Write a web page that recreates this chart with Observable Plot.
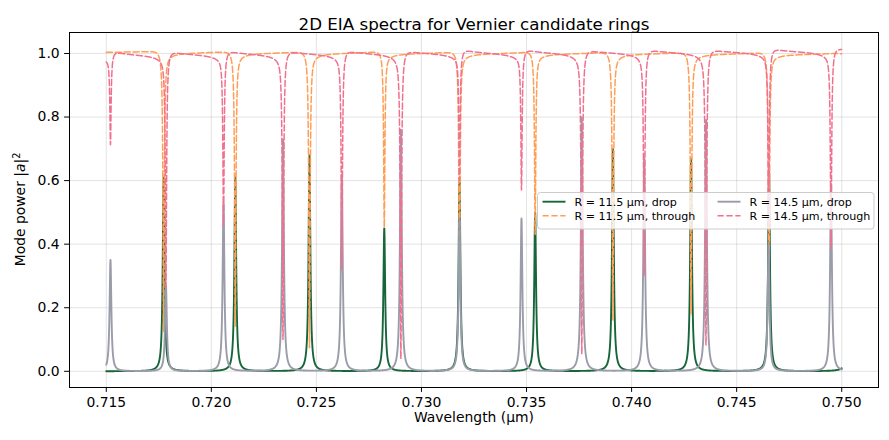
<!DOCTYPE html>
<html>
<head>
<meta charset="utf-8">
<script src="https://cdn.jsdelivr.net/npm/d3@7"></script>
<script src="https://cdn.jsdelivr.net/npm/@observablehq/plot@0.6"></script>
<style>
  html, body { margin: 0; padding: 0; background: #ffffff; }
  #chart svg { display: block; }
</style>
</head>
<body>
<div id="chart"></div>
<script>
// Wavelength window of the sweep (µm)
const sweepStart = 0.715;
const sweepEnd = 0.750;
const sweepStep = 0.000004;

// R = 11.5 µm ring: resonance centres (µm), drop-port peak power, through-port minimum
const ring115Centers = [0.71773, 0.72114, 0.72467, 0.72823, 0.73181, 0.73541, 0.73911, 0.74283, 0.74654, 0.75040];
const ring115DropPeak = [0.61, 0.61, 0.68, 0.45, 0.61, 0.50, 0.70, 0.67, 0.64, 0.60];
const ring115ThroughMin = [0.12, 0.14, 0.07, 0.45, 0.25, 0.43, 0.16, 0.18, 0.31, 0.30];

// R = 14.5 µm ring: resonance centres (µm), drop-port peak power, through-port minimum
const ring145Centers = [0.71520, 0.71784, 0.72058, 0.72341, 0.72621, 0.72902, 0.73181, 0.73476, 0.73763, 0.74060, 0.74354, 0.74652, 0.74949];
const ring145DropPeak = [0.35, 0.27, 0.53, 0.73, 0.62, 0.76, 0.48, 0.48, 0.80, 0.67, 0.79, 0.40, 0.59];
const ring145ThroughMin = [0.72, 0.27, 0.46, 0.10, 0.32, 0.04, 0.60, 0.57, 0.05, 0.30, 0.08, 0.45, 0.38];

// Linewidths (half width at half maximum, µm) and Fano-like skew of the through port
const dropHalfWidth = 0.00005;
const throughHalfWidth = 0.000035;
const skewWidth = 0.00025;
const ring115Skew = -0.008;
const ring145Skew = 0.012;

// Axis ticks
const xTicks = [0.715, 0.720, 0.725, 0.730, 0.735, 0.740, 0.745, 0.750];
const yTicks = [0.0, 0.2, 0.4, 0.6, 0.8, 1.0];

const seriesNames = ["R = 11.5 µm, drop", "R = 11.5 µm, through", "R = 14.5 µm, drop", "R = 14.5 µm, through"];
const seriesColors = ["#17663a", "#ff9f55", "#9a9caa", "#f2708f"];

const lorentz = (d, g) => (g * g) / (d * d + g * g);
const dispersive = (d, g) => (2 * g * d) / (d * d + g * g);

const wavelengths = d3.range(Math.round((sweepEnd - sweepStart) / sweepStep) + 1)
  .map(i => sweepStart + i * sweepStep);

function dropSpectrum(centers, peaks) {
  return wavelengths.map(w => ({
    w,
    p: d3.sum(centers, (c, i) => peaks[i] * lorentz(w - c, dropHalfWidth))
  }));
}
function throughSpectrum(centers, minima, skew) {
  return wavelengths.map(w => ({
    w,
    p: 1
      - d3.sum(centers, (c, i) => (1 - minima[i]) * lorentz(w - c, throughHalfWidth))
      + skew * d3.sum(centers, c => dispersive(w - c, skewWidth))
  }));
}

const drop115 = dropSpectrum(ring115Centers, ring115DropPeak);
const through115 = throughSpectrum(ring115Centers, ring115ThroughMin, ring115Skew);
const drop145 = dropSpectrum(ring145Centers, ring145DropPeak);
const through145 = throughSpectrum(ring145Centers, ring145ThroughMin, ring145Skew);

const font = "'DejaVu Sans', sans-serif";
const dash = "6.2,2.7";
const gridStyle = { stroke: "#b0b0b0", strokeOpacity: 0.35, strokeWidth: 1 };

const chart = Plot.plot({
  width: 889,
  height: 440,
  marginLeft: 69,
  marginRight: 11,
  marginTop: 32,
  marginBottom: 53,
  style: { fontFamily: font, fontSize: "13.9px", background: "#ffffff", color: "#000000" },
  x: { domain: [0.71325, 0.75175] },
  y: { domain: [-0.051, 1.066] },
  marks: [
    Plot.gridX(xTicks, gridStyle),
    Plot.gridY(yTicks, gridStyle),
    Plot.line(drop115, { x: "w", y: "p", stroke: seriesColors[0], strokeWidth: 1.9 }),
    Plot.line(through115, { x: "w", y: "p", stroke: seriesColors[1], strokeWidth: 1.5, strokeDasharray: dash }),
    Plot.line(drop145, { x: "w", y: "p", stroke: seriesColors[2], strokeWidth: 1.9 }),
    Plot.line(through145, { x: "w", y: "p", stroke: seriesColors[3], strokeWidth: 1.5, strokeDasharray: dash }),
    Plot.frame({ stroke: "#000000", strokeWidth: 1 }),
    // tick marks only; tick labels are placed below as text marks
    Plot.axisX(xTicks, { tickSize: 4.9, tickFormat: () => "", label: null }),
    Plot.axisY(yTicks, { tickSize: 4.9, tickFormat: () => "", label: null }),
    Plot.text(xTicks, { x: d => d, text: d => d.toFixed(3), frameAnchor: "bottom", lineAnchor: "top", dy: 9.5, fontSize: 13.9, fill: "#000000" }),
    Plot.text(yTicks, { y: d => d, text: d => d.toFixed(1), frameAnchor: "left", textAnchor: "end", dx: -9.8, fontSize: 13.9, fill: "#000000" }),
    Plot.text(["2D EIA spectra for Vernier candidate rings"], { frameAnchor: "top", dy: -14, fontSize: 16.7, fill: "#000000" }),
    Plot.text(["Wavelength (µm)"], { frameAnchor: "bottom", dy: 34.5, fontSize: 13.9, fill: "#000000" })
  ]
});

const svg = d3.select(chart);

// Y-axis title with an italic "a" and a raised square
const yTitle = svg.append("text")
  .attr("transform", "translate(20,209.5) rotate(-90)")
  .attr("text-anchor", "middle")
  .attr("dy", "0.35em")
  .attr("font-family", font)
  .attr("font-size", 13.9)
  .attr("fill", "#000000");
yTitle.append("tspan").text("Mode power |");
yTitle.append("tspan").attr("font-style", "italic").text("a");
yTitle.append("tspan").text("|");
yTitle.append("tspan").attr("font-size", 9.7).attr("dy", "-0.55em").text("2");

// Legend box, two columns, inside the plotting area
const legend = svg.append("g")
  .attr("font-family", font)
  .attr("font-size", 11.1)
  .attr("text-anchor", "start");
legend.append("rect")
  .attr("x", 537.5).attr("y", 192.5).attr("width", 336.5).attr("height", 36.5)
  .attr("rx", 3).attr("fill", "#ffffff").attr("fill-opacity", 0.8)
  .attr("stroke", "#cccccc").attr("stroke-width", 1);
const entryX = [542.5, 542.5, 717.5, 717.5];
const entryY = [201.7, 215.7, 201.7, 215.7];
seriesNames.forEach((name, i) => {
  const dashed = i % 2 === 1;
  legend.append("line")
    .attr("x1", entryX[i]).attr("x2", entryX[i] + 23)
    .attr("y1", entryY[i]).attr("y2", entryY[i])
    .attr("stroke", seriesColors[i])
    .attr("stroke-width", dashed ? 1.5 : 1.9)
    .attr("stroke-dasharray", dashed ? dash : null);
  legend.append("text")
    .attr("x", entryX[i] + 32).attr("y", entryY[i])
    .attr("dy", "0.35em")
    .attr("text-anchor", "start")
    .attr("fill", "#000000")
    .text(name);
});

document.getElementById("chart").appendChild(chart);
</script>
</body>
</html>
